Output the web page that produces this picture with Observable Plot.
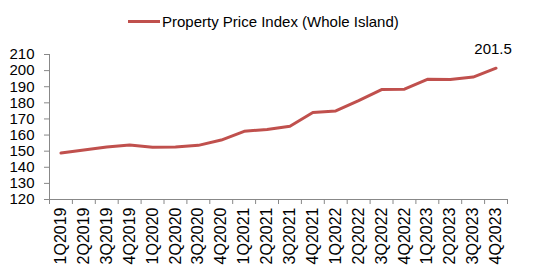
<!DOCTYPE html>
<html>
<head>
<meta charset="utf-8">
<script src="https://cdn.jsdelivr.net/npm/d3@7"></script>
<script src="https://cdn.jsdelivr.net/npm/@observablehq/plot@0.6"></script>
<style>
  html, body { margin: 0; padding: 0; background: #fff; }
  #wrap { position: relative; width: 550px; height: 275px; font-family: "Liberation Sans", Arial, sans-serif; }
  #legend { position: absolute; top: 13px; left: 128px; display: flex; align-items: center; font-size: 15px; color: #000; white-space: nowrap; }
  #legend .sw { display: inline-block; width: 32px; height: 3px; background: #c0504d; margin-right: 2px; }
</style>
</head>
<body>
<div id="wrap">
  <div id="legend"><span class="sw"></span><span>Property Price Index (Whole Island)</span></div>
</div>
<script>
const quarters = ["1Q2019","2Q2019","3Q2019","4Q2019","1Q2020","2Q2020","3Q2020","4Q2020",
  "1Q2021","2Q2021","3Q2021","4Q2021","1Q2022","2Q2022","3Q2022","4Q2022",
  "1Q2023","2Q2023","3Q2023","4Q2023"];
const values = [148.8, 150.7, 152.6, 153.8, 152.5, 152.6, 153.6, 156.9,
  162.3, 163.5, 165.5, 174.0, 175.0, 181.4, 188.2, 188.5,
  194.6, 194.5, 196.0, 201.5];
const yTicks = [120,130,140,150,160,170,180,190,200,210];
const seriesName = "Property Price Index (Whole Island)";

const data = quarters.map((q, i) => ({i, q, v: values[i]}));
const bounds = quarters.map((q, i) => i - 0.5).concat([quarters.length - 0.5]);
const last = data[data.length - 1];

const chart = Plot.plot({
  width: 550,
  height: 275,
  marginTop: 54,
  marginBottom: 76,
  marginLeft: 49,
  marginRight: 43,
  style: {fontFamily: "Liberation Sans, Arial, sans-serif", fontSize: "15px", color: "#000", background: "#fff"},
  x: {type: "linear", domain: [-0.5, quarters.length - 0.5], label: null},
  y: {type: "linear", domain: [120, 210], label: null},
  marks: [
    Plot.ruleY([120], {stroke: "#888", strokeWidth: 1}),
    Plot.ruleX([bounds[0]], {y1: 120, y2: 210, stroke: "#888", strokeWidth: 1}),
    Plot.axisX({ticks: bounds, tickFormat: () => "", tickSize: 5, stroke: "#888", label: null}),
    Plot.axisY({ticks: yTicks, tickSize: 5, tickPadding: 10, stroke: "#888", fontSize: 15, fill: "#000", label: null}),
    Plot.axisX({ticks: quarters.map((q, i) => i), tickFormat: i => quarters[i], tickSize: 0, tickPadding: 8, tickRotate: -90, fontSize: 16, fill: "#000", label: null}),
    Plot.line(data, {x: "i", y: "v", stroke: "#c0504d", strokeWidth: 3, strokeLinejoin: "round"}),
    Plot.text([last], {x: "i", y: "v", text: d => d.v.toFixed(1), dy: -19, dx: -3, fontSize: 15, fill: "#000"})
  ]
});
document.getElementById("wrap").appendChild(chart);
</script>
</body>
</html>
